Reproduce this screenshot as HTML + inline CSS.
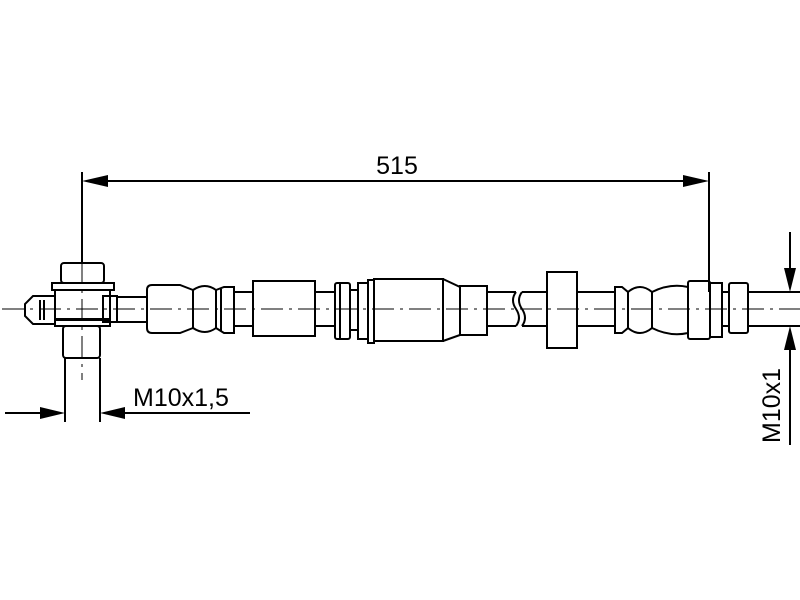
<!DOCTYPE html>
<html><head><style>body{margin:0;background:#fff}svg{display:block}</style></head><body>
<svg width="800" height="600" viewBox="0 0 800 600" xmlns="http://www.w3.org/2000/svg" font-family="Liberation Sans, sans-serif">
<g fill="none" stroke="#000" stroke-width="2">
<!-- top dimension -->
<line x1="82" y1="172" x2="82" y2="262"/>
<line x1="709" y1="172" x2="709" y2="292"/>
<line x1="100" y1="181" x2="692" y2="181"/>
<!-- left fitting -->
<rect x="61" y="263" width="43" height="20" rx="3"/>
<rect x="52" y="283" width="62" height="7"/>
<rect x="55" y="290" width="55" height="30"/>
<path d="M55 296 L33 296 L25 304 L25 316 L33 324 L55 324"/>
<line x1="40" y1="300" x2="40" y2="320"/>
<line x1="44" y1="300" x2="44" y2="320"/>
<rect x="103" y="296" width="14" height="26"/>
<rect x="55" y="319" width="55" height="7"/>
<rect x="63" y="326" width="37" height="32" rx="3"/>
<line x1="65" y1="358" x2="65" y2="422"/>
<line x1="100" y1="358" x2="100" y2="422"/>
<!-- left tube -->
<line x1="117" y1="297" x2="148" y2="297"/>
<line x1="117" y1="322" x2="148" y2="322"/>
<path d="M152 285 L180 285 L193 290 L193 328 L180 333 L152 333 Q147 333 147 328 L147 290 Q147 285 152 285Z"/>
<path d="M193 290 Q205 282 216 290 L216 328 Q205 336 193 328"/>
<path d="M216 290 L224 287 L234 287 L234 333 L224 333 L216 328"/>
<line x1="221" y1="289" x2="221" y2="331"/>
<line x1="234" y1="292" x2="253" y2="292"/>
<line x1="234" y1="326" x2="253" y2="326"/>
<rect x="253" y="281" width="62" height="55"/>
<line x1="315" y1="292" x2="335" y2="292"/>
<line x1="315" y1="326" x2="335" y2="326"/>
<rect x="335" y="283" width="15" height="56" rx="2"/>
<line x1="340" y1="283" x2="340" y2="339"/>
<line x1="350" y1="290" x2="358" y2="290"/>
<line x1="350" y1="330" x2="358" y2="330"/>
<rect x="358" y="283" width="10" height="56"/>
<rect x="368" y="280" width="6" height="63"/>
<rect x="374" y="279" width="69" height="62"/>
<path d="M443 279 L460 287 L460 335 L443 341"/>
<rect x="460" y="286" width="27" height="49"/>
<line x1="487" y1="292" x2="516" y2="292"/>
<line x1="487" y1="326" x2="516" y2="326"/>
<path d="M516 292 Q510 300 516 309 Q522 318 516 326"/>
<path d="M522 292 Q516 300 522 309 Q528 318 522 326"/>
<line x1="522" y1="292" x2="547" y2="292"/>
<line x1="522" y1="326" x2="547" y2="326"/>
<rect x="547" y="272" width="30" height="76"/>
<line x1="577" y1="292" x2="615" y2="292"/>
<line x1="577" y1="326" x2="615" y2="326"/>
<path d="M615 287 L622 287 L628 292 L628 328 L622 333 L615 333Z"/>
<path d="M628 292 Q640 282 652 292 L652 328 Q640 338 628 328"/>
<path d="M652 292 Q670 283 688 287 L688 333 Q670 337 652 328"/>
<rect x="688" y="281" width="22" height="58" rx="2"/>
<rect x="710" y="283" width="12" height="54"/>
<rect x="729" y="283" width="19" height="50" rx="2"/>
<line x1="722" y1="292" x2="729" y2="292"/>
<line x1="722" y1="326" x2="729" y2="326"/>
<line x1="748" y1="292" x2="800" y2="292"/>
<line x1="748" y1="326" x2="800" y2="326"/>
<!-- right dimension -->
<line x1="790" y1="232" x2="790" y2="275"/>
<line x1="790" y1="343" x2="790" y2="445"/>
<!-- bottom left dimension -->
<line x1="5" y1="413" x2="48" y2="413"/>
<line x1="117" y1="413" x2="250" y2="413"/>
</g>
<g stroke="#000" stroke-width="1" stroke-dasharray="22,6,3,6" fill="none">
<line x1="2" y1="309" x2="800" y2="309"/>
<line x1="82" y1="262" x2="82" y2="380"/>
</g>
<g fill="#000">
<polygon points="82,181 108,175 108,187"/>
<polygon points="709,181 683,175 683,187"/>
<polygon points="65,413 40,407 40,419"/>
<polygon points="100,413 125,407 125,419"/>
<polygon points="790,292 784,268 796,268"/>
<polygon points="790,326 784,350 796,350"/>
</g>
<text x="397" y="174" font-size="25" text-anchor="middle">515</text>
<text x="133" y="406" font-size="25">M10x1,5</text>
<text transform="translate(780,443) rotate(-90)" font-size="25">M10x1</text>
</svg>
</body></html>
